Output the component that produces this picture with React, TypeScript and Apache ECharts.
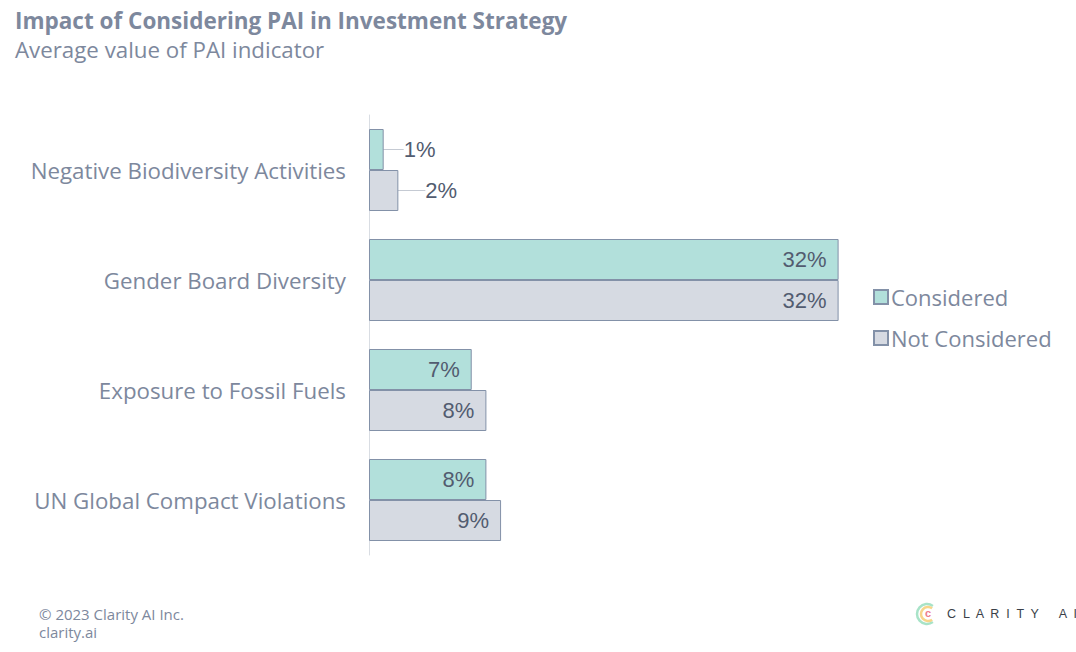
import React, { useEffect, useRef } from "react";
import * as echarts from "echarts";

const categories = [
  "Negative Biodiversity Activities",
  "Gender Board Diversity",
  "Exposure to Fossil Fuels",
  "UN Global Compact Violations",
];
const considered = [1, 32, 7, 8];
const notConsidered = [2, 32, 8, 9];
const seriesNames = ["Considered", "Not Considered"];

const FONT = "'Open Sans', 'Noto Sans', sans-serif";
const LABEL_COLOR = "#525c70";

function buildData(values: number[]) {
  return values.map((v) => ({
    value: v,
    label: v < 4 ? { position: "right", distance: 13 + v * 7 } : { position: "insideRight", distance: 12 },
  }));
}

export default function App() {
  const ref = useRef<HTMLDivElement>(null);
  useEffect(() => {
    if (!ref.current) return;
    const chart = echarts.init(ref.current, undefined, { renderer: "svg" });
    const barLabel = {
      show: true,
      formatter: "{c}%",
      fontSize: 22,
      color: LABEL_COLOR,
      fontFamily: "Arial, 'Liberation Sans', sans-serif",
    };
    chart.setOption({
      animation: false,
      backgroundColor: "#ffffff",
      title: [
        {
          text: "Impact of Considering PAI in Investment Strategy",
          left: 10,
          top: 4,
          textStyle: { fontFamily: FONT, fontWeight: "bold", fontSize: 22.5, color: "#7d889d" },
        },
        {
          text: "Average value of PAI indicator",
          left: 10,
          top: 33,
          textStyle: { fontFamily: FONT, fontWeight: "normal", fontSize: 22.3, color: "#7d889d" },
        },
      ],
      legend: {
        orient: "vertical",
        left: 868,
        top: 281,
        itemWidth: 14,
        itemHeight: 14,
        itemGap: 19,
        icon: "rect",
        data: seriesNames,
        textStyle: { fontFamily: FONT, fontSize: 22, color: "#7d889d", padding: [0, 0, 0, -2] },
      },
      grid: { left: 369, right: 120, top: 115, bottom: 97, containLabel: false },
      xAxis: { type: "value", min: 0, max: 40, show: false },
      yAxis: {
        type: "category",
        data: categories,
        inverse: true,
        axisLine: { show: true, lineStyle: { color: "#d9dde3", width: 1 } },
        axisTick: { show: false },
        axisLabel: { fontFamily: FONT, fontSize: 22.3, color: "#7d889d", margin: 23 },
      },
      series: [
        {
          name: seriesNames[0],
          type: "bar",
          data: buildData(considered),
          barWidth: 41,
          barGap: "0%",
          itemStyle: { color: "#b2e0db", borderColor: "#8391a8", borderWidth: 1 },
          label: barLabel,
          labelLine: { show: true, lineStyle: { color: "#c5cad3", width: 1 } },
          labelLayout: (p: any) => (p.dataIndex === 0 ? { dx: 0 } : {}),
        },
        {
          name: seriesNames[1],
          type: "bar",
          data: buildData(notConsidered),
          barWidth: 41,
          barGap: "0%",
          itemStyle: { color: "#d6dae2", borderColor: "#8391a8", borderWidth: 1 },
          label: barLabel,
          labelLine: { show: true, lineStyle: { color: "#c5cad3", width: 1 } },
          labelLayout: (p: any) => (p.dataIndex === 0 ? { dx: 0 } : {}),
        },
      ],
      graphic: [
        {
          type: "text",
          left: 39,
          top: 606,
          style: { text: "© 2023 Clarity AI Inc.", fontFamily: FONT, fontSize: 15, fill: "#7d889d" },
        },
        {
          type: "text",
          left: 39,
          top: 624,
          style: { text: "clarity.ai", fontFamily: FONT, fontSize: 15, fill: "#7d889d" },
        },
        {
          type: "arc",
          shape: { cx: 927, cy: 614, r: 10, startAngle: Math.PI * 0.3, endAngle: Math.PI * 1.7, clockwise: true },
          style: { stroke: "#a8e3c8", lineWidth: 2.5, fill: "none" },
        },
        {
          type: "arc",
          shape: { cx: 928, cy: 614, r: 7, startAngle: Math.PI * 0.3, endAngle: Math.PI * 1.7, clockwise: true },
          style: { stroke: "#f7d58a", lineWidth: 2.5, fill: "none" },
        },
        {
          type: "text",
          left: 925,
          top: 607,
          style: { text: "c", fontFamily: "Arial, sans-serif", fontWeight: "bold", fontSize: 11, fill: "#ee7d8c" },
        },
        {
          type: "text",
          left: 947,
          top: 607,
          style: { text: "C  L  A  R  I  T  Y      A  I", fontFamily: "Arial, sans-serif", fontSize: 12.5, fill: "#3a3f48" },
        },
      ],
    });
    return () => chart.dispose();
  }, []);
  return (
    <div
      ref={ref}
      style={{ position: "absolute", left: 0, top: 0, width: 1076, height: 652 }}
    />
  );
}
